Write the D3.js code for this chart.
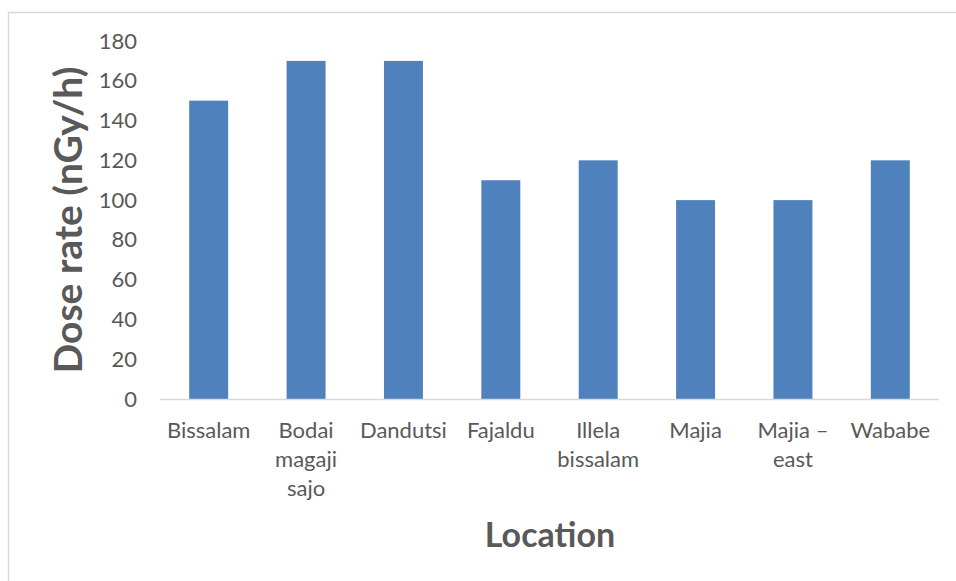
<!DOCTYPE html>
<html>
  <head>
    <title>Dose rate by location</title>
    <script src="https://d3js.org/d3.v7.min.js"></script>
    <style>
      body { margin: 0; background: #fff; }
      text { font-family: Lato, 'Open Sans', sans-serif; fill: #595959; }
    </style>
  </head>
  <body>
    <script>
      // one entry per bar, label lines split for the x axis
      let locations = ['Bissalam', 'Bodai magaji sajo', 'Dandutsi', 'Fajaldu', 'Illela bissalam', 'Majia', 'Majia – east', 'Wababe']
      let labelLines = [['Bissalam'], ['Bodai', 'magaji', 'sajo'], ['Dandutsi'], ['Fajaldu'], ['Illela', 'bissalam'], ['Majia'], ['Majia –', 'east'], ['Wababe']]
      let doseRates = [150, 170, 170, 110, 120, 100, 100, 120]
      let yTicks = [0, 20, 40, 60, 80, 100, 120, 140, 160, 180]

      let width = 956, height = 581
      let plotLeft = 160, plotRight = 939, plotTop = 41, plotBottom = 399

      let svg = d3.select('body').append('svg')
                  .attr('width', width)
                  .attr('height', height)

      // chart frame (right and bottom edges fall outside the picture)
      svg.append('rect')
         .attr('x', 8.5).attr('y', 12.5)
         .attr('width', 960).attr('height', 600)
         .attr('fill', 'none')
         .attr('stroke', '#d9d9d9')
         .attr('stroke-width', 1.5)

      let xScale = d3.scaleBand()
                     .domain(locations)
                     .range([plotLeft, plotRight])
                     .paddingInner(0.6)
                     .paddingOuter(0.3)

      let yScale = d3.scaleLinear()
                     .domain([0, 180])
                     .range([plotBottom, plotTop])

      let yAxis = d3.axisLeft(yScale).tickValues(yTicks).tickSize(0).tickPadding(23)
      let gy = svg.append('g').attr('transform', `translate(${plotLeft}, 0)`).call(yAxis)
      gy.select('.domain').remove()
      gy.selectAll('text').style('font-size', '22px').attr('fill', '#595959')

      svg.selectAll('rect.bar').data(doseRates)
         .enter().append('rect')
         .attr('class', 'bar')
         .attr('x', (d, i) => xScale(locations[i]))
         .attr('y', d => yScale(d))
         .attr('width', xScale.bandwidth())
         .attr('height', d => yScale(0) - yScale(d))
         .attr('fill', '#4f81bd')

      // baseline
      svg.append('line')
         .attr('x1', plotLeft).attr('x2', plotRight)
         .attr('y1', yScale(0) + 0.5).attr('y2', yScale(0) + 0.5)
         .attr('stroke', '#d9d9d9')
         .attr('stroke-width', 1.5)

      let xLabels = svg.selectAll('text.xlabel').data(locations)
                       .enter().append('text')
                       .attr('class', 'xlabel')
                       .attr('text-anchor', 'middle')
                       .style('font-size', '22px')
                       .attr('transform', d => `translate(${xScale(d) + xScale.bandwidth() / 2}, ${plotBottom + 39})`)

      xLabels.selectAll('tspan').data((d, i) => labelLines[i])
             .enter().append('tspan')
             .attr('x', 0)
             .attr('dy', (d, i) => i === 0 ? 0 : 29)
             .text(d => d)

      svg.append('text')
         .attr('text-anchor', 'middle')
         .attr('x', 550).attr('y', 547)
         .style('font-size', '34px')
         .style('font-weight', 'bold')
         .text('Location')

      svg.append('text')
         .attr('text-anchor', 'middle')
         .attr('transform', 'translate(82, 220) rotate(-90)')
         .style('font-size', '39px')
         .style('font-weight', 'bold')
         .text('Dose rate (nGy/h)')
    </script>
  </body>
</html>
